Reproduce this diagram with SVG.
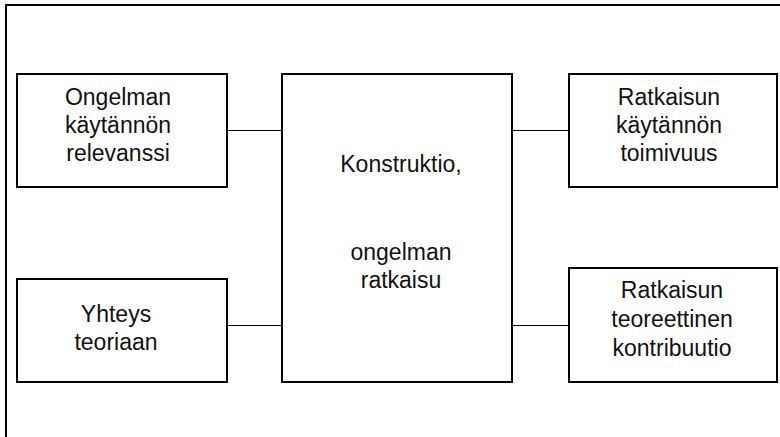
<svg xmlns="http://www.w3.org/2000/svg" width="780" height="437" viewBox="0 0 780 437">
  <style>
    .frame { fill: none; stroke: #000; stroke-width: 2; }
    .box { fill: #fff; stroke: #000; stroke-width: 2; }
    .link { stroke: #000; stroke-width: 1; fill: none; }
    .label { font-family: "Liberation Sans", Arial, sans-serif; font-size: 23px; fill: #111; text-anchor: middle; }
  </style>
  <rect width="780" height="437" fill="#fff"/>
  <!-- outer frame, open to the right and bottom edges -->
  <path class="frame" d="M6,437 V5 H781"/>

  <g id="connectors">
    <line class="link" x1="227" y1="130.5" x2="282" y2="130.5"/>
    <line class="link" x1="227" y1="325.5" x2="282" y2="325.5"/>
    <line class="link" x1="512" y1="130.5" x2="569" y2="130.5"/>
    <line class="link" x1="512" y1="325.5" x2="569" y2="325.5"/>
  </g>

  <g id="relevance">
    <rect class="box" x="17" y="74" width="210" height="113"/>
    <text class="label" x="118" y="105">Ongelman</text>
    <text class="label" x="118" y="133">käytännön</text>
    <text class="label" x="118" y="161">relevanssi</text>
  </g>

  <g id="theory-link">
    <rect class="box" x="17" y="279" width="210" height="103"/>
    <text class="label" x="116" y="322">Yhteys</text>
    <text class="label" x="116" y="350">teoriaan</text>
  </g>

  <g id="construct">
    <rect class="box" x="282" y="74" width="230" height="308"/>
    <text class="label" x="401" y="172">Konstruktio,</text>
    <text class="label" x="401" y="260">ongelman</text>
    <text class="label" x="401" y="288">ratkaisu</text>
  </g>

  <g id="practical-function">
    <rect class="box" x="569" y="74" width="208" height="113"/>
    <text class="label" x="669" y="105">Ratkaisun</text>
    <text class="label" x="669" y="133">käytännön</text>
    <text class="label" x="669" y="161">toimivuus</text>
  </g>

  <g id="theoretical-contribution">
    <rect class="box" x="569" y="268" width="208" height="114"/>
    <text class="label" x="672" y="298">Ratkaisun</text>
    <text class="label" x="672" y="327">teoreettinen</text>
    <text class="label" x="672" y="356">kontribuutio</text>
  </g>
</svg>
